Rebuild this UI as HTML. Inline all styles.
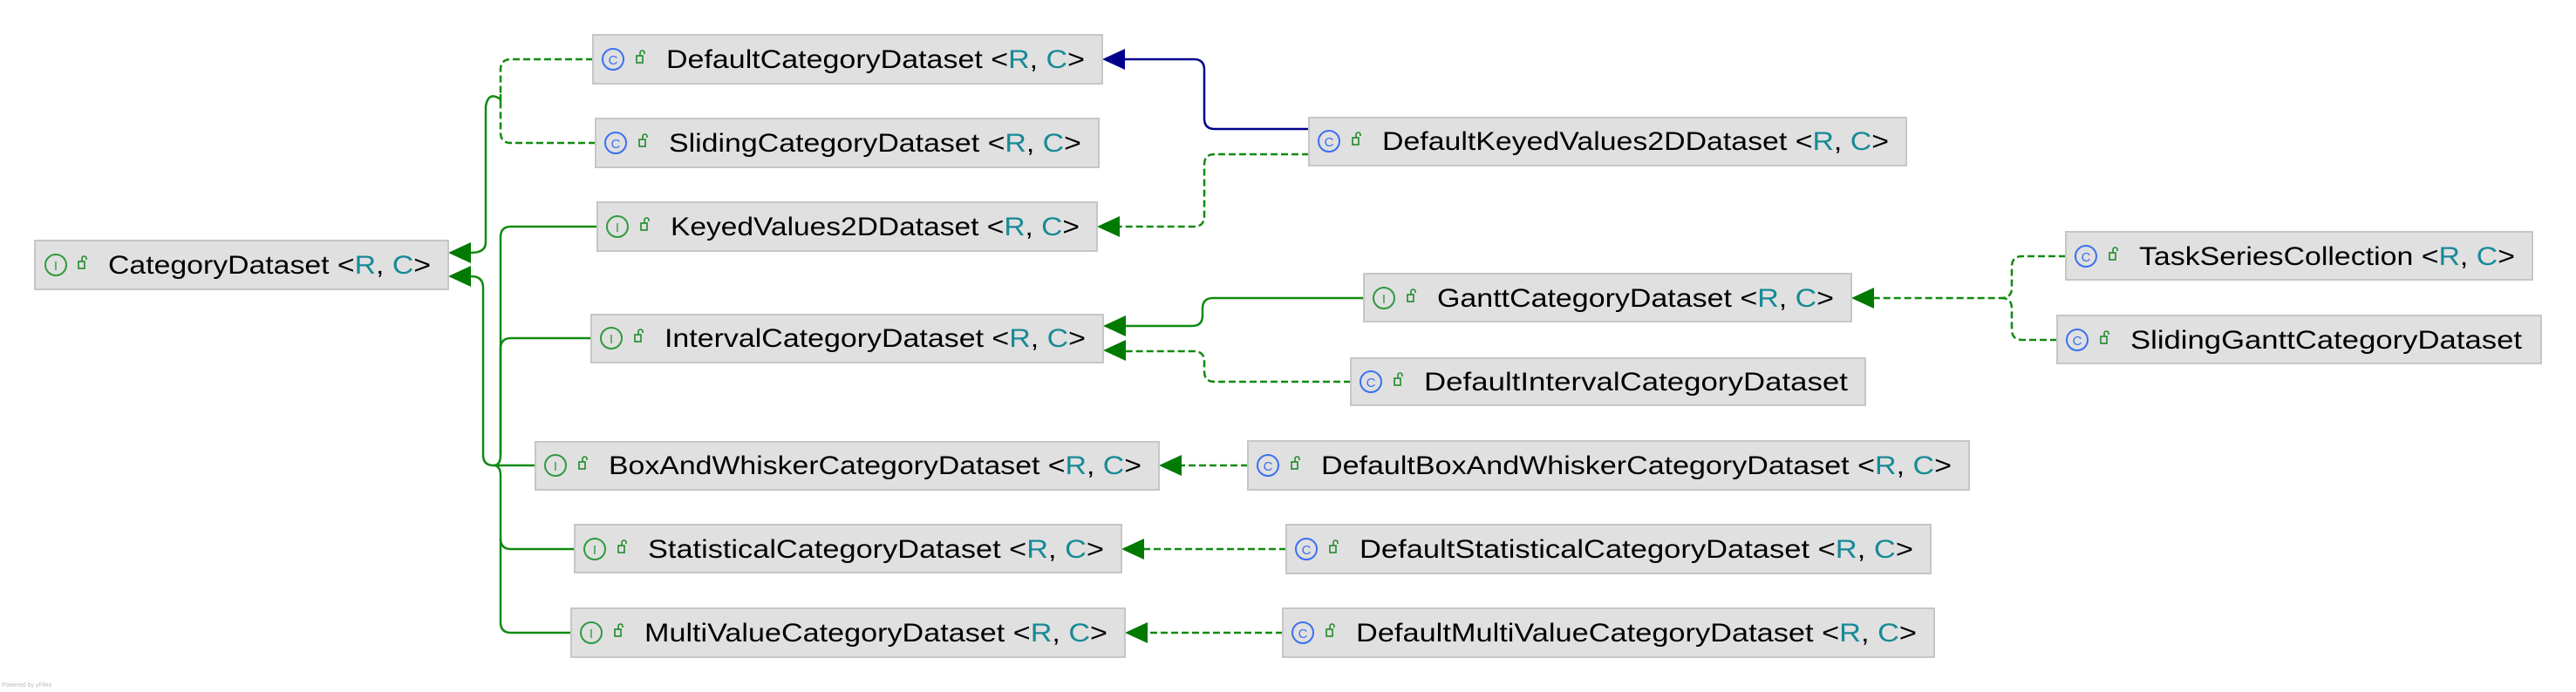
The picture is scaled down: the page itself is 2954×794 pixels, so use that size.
<!DOCTYPE html>
<html><head><meta charset="utf-8"><style>
html,body{margin:0;padding:0;background:#fff;width:2954px;height:794px;overflow:hidden}
svg text{font-family:"Liberation Sans",sans-serif}
</style></head><body>
<svg width="2954" height="794" viewBox="0 0 2954 794" xmlns="http://www.w3.org/2000/svg">
<defs>
<g id="lock"><rect x="0" y="6" width="7" height="8" fill="none" stroke="#1f8a2a" stroke-width="1.6"/><path d="M4 6 V2.5 A2.5 2.5 0 0 1 9 2.5 V4" fill="none" stroke="#1f8a2a" stroke-width="1.6"/></g>
</defs>
<g fill="none" stroke-width="2.5">
<!-- to CategoryDataset top arrow -->
<g stroke="#118a11" stroke-dasharray="8 4">
<path d="M680 68 H586 Q574 68 574 80 V108"/>
<path d="M683 164 H586 Q574 164 574 152 V120"/>
<path d="M1501 177 H1393 Q1381 177 1381 189 V248 Q1381 260 1369 260 H1284"/>
<path d="M1549 438 H1393 Q1381 438 1381 426 V415 Q1381 403 1369 403 H1291"/>
<path d="M2369 294 H2319 Q2307 294 2307 306 V330 Q2307 342 2295 342 H2149"/>
<path d="M2359 390 H2319 Q2307 390 2307 378 V354 Q2307 342 2295 342"/>
<path d="M1431 534 H1355"/>
<path d="M1475 630 H1312"/>
<path d="M1471 726 H1316"/>
</g>
<g stroke="#118a11">
<path d="M574 108 V120"/>
<path d="M574 114 Q560 104 557 122 V278 Q557 290 540 290"/>
<path d="M685 260 H586 Q574 260 574 272 V522 Q574 534 566 534"/>
<path d="M678 388 H586 Q574 388 574 400 V522"/>
<path d="M614 534 H566 Q554 534 554 522 V330 Q554 317 540 317"/>
<path d="M659 630 H586 Q574 630 574 618 V546 Q574 534 566 534"/>
<path d="M655 726 H586 Q574 726 574 714 V618"/>
<path d="M1564 342 H1391 Q1379 342 1379 354 V362 Q1379 374 1367 374 H1291"/>
</g>
<path stroke="#00008b" d="M1501 148 H1393 Q1381 148 1381 136 V80 Q1381 68 1369 68 H1290"/>
</g>
<g fill="#007a00">
<polygon points="514,290 540,278 540,302"/>
<polygon points="514,317 540,305 540,329"/>
<polygon points="1258,260 1284,248 1284,272"/>
<polygon points="1265,374 1291,362 1291,386"/>
<polygon points="1265,402 1291,390 1291,414"/>
<polygon points="2123,342 2149,330 2149,354"/>
<polygon points="1329,534 1355,522 1355,546"/>
<polygon points="1286,630 1312,618 1312,642"/>
<polygon points="1290,726 1316,714 1316,738"/>
</g>
<polygon fill="#00008b" points="1264,68 1290,56 1290,80"/>

<g id="boxes">
<!-- helper pattern: rect, icon, lock, text -->
</g>
<g font-size="30" fill="#000">
<g>
<rect x="40" y="276" width="474" height="56" fill="#e0e0e0" stroke="#c6c6c6" stroke-width="2"/>
<circle cx="64" cy="304" r="12" fill="none" stroke="#2e9a3e" stroke-width="2"/><text x="64" y="310" font-size="15" text-anchor="middle" fill="#2e9a3e">I</text>
<use href="#lock" x="90" y="294"/>
<text x="124" y="314" textLength="370" lengthAdjust="spacingAndGlyphs">CategoryDataset &lt;<tspan fill="#178a96">R</tspan>, <tspan fill="#178a96">C</tspan>&gt;</text>
</g>
<g>
<rect x="680" y="40" width="584" height="56" fill="#e0e0e0" stroke="#c6c6c6" stroke-width="2"/>
<circle cx="703" cy="68" r="12" fill="none" stroke="#3a70f0" stroke-width="2"/><text x="703" y="74" font-size="15" text-anchor="middle" fill="#3a70f0">C</text>
<use href="#lock" x="730" y="58"/>
<text x="764" y="78" textLength="480" lengthAdjust="spacingAndGlyphs">DefaultCategoryDataset &lt;<tspan fill="#178a96">R</tspan>, <tspan fill="#178a96">C</tspan>&gt;</text>
</g>
<g>
<rect x="683" y="136" width="577" height="56" fill="#e0e0e0" stroke="#c6c6c6" stroke-width="2"/>
<circle cx="706" cy="164" r="12" fill="none" stroke="#3a70f0" stroke-width="2"/><text x="706" y="170" font-size="15" text-anchor="middle" fill="#3a70f0">C</text>
<use href="#lock" x="733" y="154"/>
<text x="767" y="174" textLength="473" lengthAdjust="spacingAndGlyphs">SlidingCategoryDataset &lt;<tspan fill="#178a96">R</tspan>, <tspan fill="#178a96">C</tspan>&gt;</text>
</g>
<g>
<rect x="685" y="232" width="573" height="56" fill="#e0e0e0" stroke="#c6c6c6" stroke-width="2"/>
<circle cx="708" cy="260" r="12" fill="none" stroke="#2e9a3e" stroke-width="2"/><text x="708" y="266" font-size="15" text-anchor="middle" fill="#2e9a3e">I</text>
<use href="#lock" x="735" y="250"/>
<text x="769" y="270" textLength="469" lengthAdjust="spacingAndGlyphs">KeyedValues2DDataset &lt;<tspan fill="#178a96">R</tspan>, <tspan fill="#178a96">C</tspan>&gt;</text>
</g>
<g>
<rect x="678" y="361" width="587" height="55" fill="#e0e0e0" stroke="#c6c6c6" stroke-width="2"/>
<circle cx="701" cy="388" r="12" fill="none" stroke="#2e9a3e" stroke-width="2"/><text x="701" y="394" font-size="15" text-anchor="middle" fill="#2e9a3e">I</text>
<use href="#lock" x="728" y="378"/>
<text x="762" y="398" textLength="483" lengthAdjust="spacingAndGlyphs">IntervalCategoryDataset &lt;<tspan fill="#178a96">R</tspan>, <tspan fill="#178a96">C</tspan>&gt;</text>
</g>
<g>
<rect x="614" y="507" width="715" height="55" fill="#e0e0e0" stroke="#c6c6c6" stroke-width="2"/>
<circle cx="637" cy="534" r="12" fill="none" stroke="#2e9a3e" stroke-width="2"/><text x="637" y="540" font-size="15" text-anchor="middle" fill="#2e9a3e">I</text>
<use href="#lock" x="664" y="524"/>
<text x="698" y="544" textLength="611" lengthAdjust="spacingAndGlyphs">BoxAndWhiskerCategoryDataset &lt;<tspan fill="#178a96">R</tspan>, <tspan fill="#178a96">C</tspan>&gt;</text>
</g>
<g>
<rect x="659" y="602" width="627" height="55" fill="#e0e0e0" stroke="#c6c6c6" stroke-width="2"/>
<circle cx="682" cy="630" r="12" fill="none" stroke="#2e9a3e" stroke-width="2"/><text x="682" y="636" font-size="15" text-anchor="middle" fill="#2e9a3e">I</text>
<use href="#lock" x="709" y="620"/>
<text x="743" y="640" textLength="523" lengthAdjust="spacingAndGlyphs">StatisticalCategoryDataset &lt;<tspan fill="#178a96">R</tspan>, <tspan fill="#178a96">C</tspan>&gt;</text>
</g>
<g>
<rect x="655" y="698" width="635" height="56" fill="#e0e0e0" stroke="#c6c6c6" stroke-width="2"/>
<circle cx="678" cy="726" r="12" fill="none" stroke="#2e9a3e" stroke-width="2"/><text x="678" y="732" font-size="15" text-anchor="middle" fill="#2e9a3e">I</text>
<use href="#lock" x="705" y="716"/>
<text x="739" y="736" textLength="531" lengthAdjust="spacingAndGlyphs">MultiValueCategoryDataset &lt;<tspan fill="#178a96">R</tspan>, <tspan fill="#178a96">C</tspan>&gt;</text>
</g>
<g>
<rect x="1501" y="135" width="685" height="55" fill="#e0e0e0" stroke="#c6c6c6" stroke-width="2"/>
<circle cx="1524" cy="162" r="12" fill="none" stroke="#3a70f0" stroke-width="2"/><text x="1524" y="168" font-size="15" text-anchor="middle" fill="#3a70f0">C</text>
<use href="#lock" x="1551" y="152"/>
<text x="1585" y="172" textLength="581" lengthAdjust="spacingAndGlyphs">DefaultKeyedValues2DDataset &lt;<tspan fill="#178a96">R</tspan>, <tspan fill="#178a96">C</tspan>&gt;</text>
</g>
<g>
<rect x="1564" y="314" width="559" height="55" fill="#e0e0e0" stroke="#c6c6c6" stroke-width="2"/>
<circle cx="1587" cy="342" r="12" fill="none" stroke="#2e9a3e" stroke-width="2"/><text x="1587" y="348" font-size="15" text-anchor="middle" fill="#2e9a3e">I</text>
<use href="#lock" x="1614" y="332"/>
<text x="1648" y="352" textLength="455" lengthAdjust="spacingAndGlyphs">GanttCategoryDataset &lt;<tspan fill="#178a96">R</tspan>, <tspan fill="#178a96">C</tspan>&gt;</text>
</g>
<g>
<rect x="1549" y="411" width="590" height="54" fill="#e0e0e0" stroke="#c6c6c6" stroke-width="2"/>
<circle cx="1572" cy="438" r="12" fill="none" stroke="#3a70f0" stroke-width="2"/><text x="1572" y="444" font-size="15" text-anchor="middle" fill="#3a70f0">C</text>
<use href="#lock" x="1599" y="428"/>
<text x="1633" y="448" textLength="486" lengthAdjust="spacingAndGlyphs">DefaultIntervalCategoryDataset</text>
</g>
<g>
<rect x="2369" y="266" width="535" height="55" fill="#e0e0e0" stroke="#c6c6c6" stroke-width="2"/>
<circle cx="2392" cy="294" r="12" fill="none" stroke="#3a70f0" stroke-width="2"/><text x="2392" y="300" font-size="15" text-anchor="middle" fill="#3a70f0">C</text>
<use href="#lock" x="2419" y="284"/>
<text x="2453" y="304" textLength="431" lengthAdjust="spacingAndGlyphs">TaskSeriesCollection &lt;<tspan fill="#178a96">R</tspan>, <tspan fill="#178a96">C</tspan>&gt;</text>
</g>
<g>
<rect x="2359" y="362" width="555" height="55" fill="#e0e0e0" stroke="#c6c6c6" stroke-width="2"/>
<circle cx="2382" cy="390" r="12" fill="none" stroke="#3a70f0" stroke-width="2"/><text x="2382" y="396" font-size="15" text-anchor="middle" fill="#3a70f0">C</text>
<use href="#lock" x="2409" y="380"/>
<text x="2443" y="400" textLength="449" lengthAdjust="spacingAndGlyphs">SlidingGanttCategoryDataset</text>
</g>
<g>
<rect x="1431" y="506" width="827" height="56" fill="#e0e0e0" stroke="#c6c6c6" stroke-width="2"/>
<circle cx="1454" cy="534" r="12" fill="none" stroke="#3a70f0" stroke-width="2"/><text x="1454" y="540" font-size="15" text-anchor="middle" fill="#3a70f0">C</text>
<use href="#lock" x="1481" y="524"/>
<text x="1515" y="544" textLength="723" lengthAdjust="spacingAndGlyphs">DefaultBoxAndWhiskerCategoryDataset &lt;<tspan fill="#178a96">R</tspan>, <tspan fill="#178a96">C</tspan>&gt;</text>
</g>
<g>
<rect x="1475" y="602" width="739" height="56" fill="#e0e0e0" stroke="#c6c6c6" stroke-width="2"/>
<circle cx="1498" cy="630" r="12" fill="none" stroke="#3a70f0" stroke-width="2"/><text x="1498" y="636" font-size="15" text-anchor="middle" fill="#3a70f0">C</text>
<use href="#lock" x="1525" y="620"/>
<text x="1559" y="640" textLength="635" lengthAdjust="spacingAndGlyphs">DefaultStatisticalCategoryDataset &lt;<tspan fill="#178a96">R</tspan>, <tspan fill="#178a96">C</tspan>&gt;</text>
</g>
<g>
<rect x="1471" y="698" width="747" height="56" fill="#e0e0e0" stroke="#c6c6c6" stroke-width="2"/>
<circle cx="1494" cy="726" r="12" fill="none" stroke="#3a70f0" stroke-width="2"/><text x="1494" y="732" font-size="15" text-anchor="middle" fill="#3a70f0">C</text>
<use href="#lock" x="1521" y="716"/>
<text x="1555" y="736" textLength="643" lengthAdjust="spacingAndGlyphs">DefaultMultiValueCategoryDataset &lt;<tspan fill="#178a96">R</tspan>, <tspan fill="#178a96">C</tspan>&gt;</text>
</g>
</g>
<text x="2" y="788" font-size="7" fill="#bbb">Powered by yFiles</text>
</svg>
</body></html>
